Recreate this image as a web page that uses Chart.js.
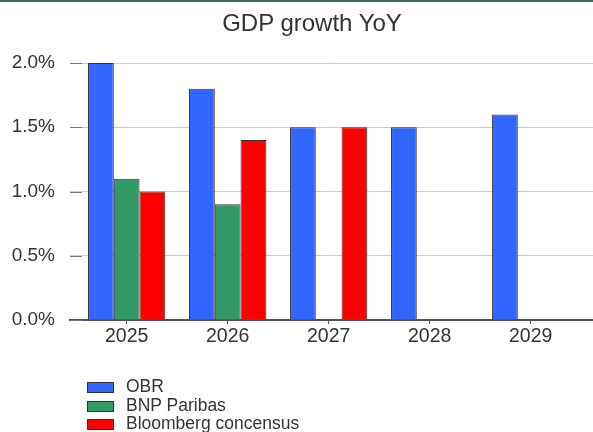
<!DOCTYPE html>
<html>
<head>
<meta charset="utf-8">
<script src="https://cdn.jsdelivr.net/npm/chart.js@4/dist/chart.umd.min.js"></script>
<style>
  html, body { margin: 0; padding: 0; background: #fff; overflow: hidden; }
  #wrap { position: relative; width: 593px; height: 432px; font-family: "Liberation Sans", Arial, sans-serif; color: #333; }
  #topline { position: absolute; left: 0; top: 0; width: 593px; height: 2px; background: #2f6f68; }
  #title { position: absolute; left: 0; width: 624px; top: 11px; text-align: center; font-size: 24px; line-height: 24px; color: #333; }
  canvas { position: absolute; left: 0; top: 0; }
  .lg { position: absolute; left: 0; height: 18px; font-size: 17.5px; line-height: 18.5px; color: #333; white-space: nowrap; }
  .lg .box { position: absolute; left: 87px; top: 5px; width: 25px; height: 9px; border: 1px solid #333; }
  .lg .txt { position: absolute; left: 126px; top: 0; }
</style>
</head>
<body>
<div id="wrap">
  <canvas id="c" width="593" height="432"></canvas>
  <div id="topline"></div>
  <div id="title">GDP growth YoY</div>
</div>
<script>
const years = [2025, 2026, 2027, 2028, 2029];
const obr = [2.0, 1.8, 1.5, 1.5, 1.6];
const bnp = [1.1, 0.9, null, null, null];
const bloomberg = [1.0, 1.4, 1.5, null, null];
const seriesNames = ['OBR', 'BNP Paribas', 'Bloomberg concensus'];
const yTicks = [0, 0.5, 1.0, 1.5, 2.0];

const colors = ['#3366ff', '#339966', '#ff0000'];
const seriesValues = [obr, bnp, bloomberg];
const FONT = '"Liberation Sans", Arial, sans-serif';

const datasets = seriesValues.map((vals, i) => ({
  label: seriesNames[i],
  data: years.map((yr, j) => ({ x: yr, y: vals[j] })),
  backgroundColor: colors[i],
  borderColor: '#333',
  borderWidth: 1,
  categoryPercentage: 0.765,
  barPercentage: 1.0
}));

const tickMarks = {
  id: 'tickMarks',
  beforeDatasetsDraw(chart) {
    const ys = chart.scales.y;
    const ctx = chart.ctx;
    ctx.save();
    ctx.strokeStyle = '#777';
    ctx.lineWidth = 1;
    yTicks.forEach(v => {
      const p = Math.round(ys.getPixelForValue(v)) + 0.5;
      ctx.beginPath();
      ctx.moveTo(chart.chartArea.left, p);
      ctx.lineTo(chart.chartArea.left + 12, p);
      ctx.stroke();
    });
    ctx.restore();
  }
};

new Chart(document.getElementById('c'), {
  type: 'bar',
  data: { datasets },
  plugins: [tickMarks],
  options: {
    responsive: false,
    animation: false,
    layout: { padding: { top: 63, left: 0, right: 0, bottom: 0 } },
    plugins: { legend: { display: false }, title: { display: false }, tooltip: { enabled: false } },
    scales: {
      x: {
        type: 'linear',
        min: 2024.439,
        max: 2029.617,
        offset: false,
        grid: { display: true, offset: false, drawOnChartArea: false, drawTicks: true, tickLength: 4, tickColor: '#555', tickWidth: 1 },
        border: { display: true, color: '#555', width: 2 },
        ticks: {
          stepSize: 1, includeBounds: false, autoSkip: false, maxRotation: 0, padding: 1,
          color: '#333', font: { family: FONT, size: 19.5 },
          callback: v => String(v)
        },
        afterFit: s => { s.height = 112; }
      },
      y: {
        min: yTicks[0],
        max: yTicks[yTicks.length - 1],
        grid: { color: '#cccccc', drawTicks: false, lineWidth: 1 },
        border: { display: false },
        ticks: {
          stepSize: 0.5, padding: 15, color: '#333', font: { family: FONT, size: 19 },
          callback: v => v.toFixed(1) + '%'
        },
        afterFit: s => { s.width = 70; }
      }
    }
  }
});

// legend (HTML), built from series names
const wrap = document.getElementById('wrap');
seriesNames.forEach((name, i) => {
  const row = document.createElement('div');
  row.className = 'lg';
  row.style.top = (377 + i * 18.5) + 'px';
  row.style.width = '593px';
  const box = document.createElement('span');
  box.className = 'box';
  box.style.background = colors[i];
  const txt = document.createElement('span');
  txt.className = 'txt';
  txt.textContent = name;
  row.appendChild(box);
  row.appendChild(txt);
  wrap.appendChild(row);
});
</script>
</body>
</html>
